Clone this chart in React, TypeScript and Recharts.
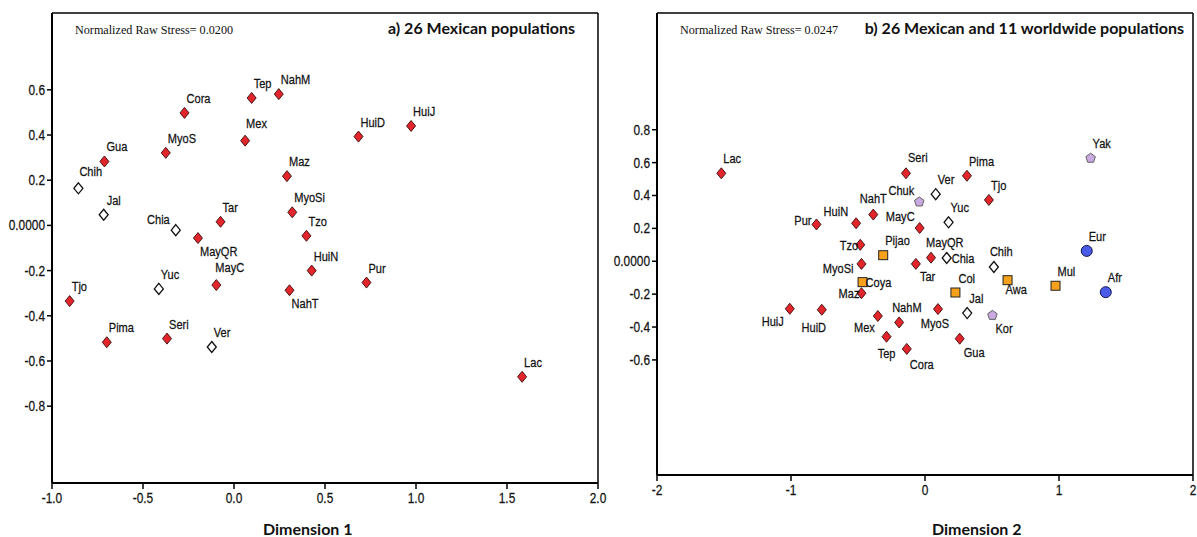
import React from "react";
import { ScatterChart, Scatter, XAxis, YAxis, ReferenceLine } from "recharts";

interface Pop {
	name: string;
	x: number;
	y: number;
}

// ---- panel a) 26 Mexican populations ----
const mexicanA: Pop[] = [
	{ name: "Tep", x: 0.097, y: 0.564 },
	{ name: "NahM", x: 0.246, y: 0.581 },
	{ name: "Cora", x: -0.272, y: 0.498 },
	{ name: "HuiJ", x: 0.973, y: 0.44 },
	{ name: "HuiD", x: 0.684, y: 0.393 },
	{ name: "Mex", x: 0.061, y: 0.375 },
	{ name: "MyoS", x: -0.375, y: 0.321 },
	{ name: "Gua", x: -0.712, y: 0.283 },
	{ name: "Maz", x: 0.291, y: 0.218 },
	{ name: "MyoSi", x: 0.32, y: 0.058 },
	{ name: "Tar", x: -0.074, y: 0.016 },
	{ name: "MayQR", x: -0.198, y: -0.056 },
	{ name: "Tzo", x: 0.398, y: -0.046 },
	{ name: "HuiN", x: 0.427, y: -0.2 },
	{ name: "Pur", x: 0.728, y: -0.253 },
	{ name: "MayC", x: -0.097, y: -0.264 },
	{ name: "NahT", x: 0.305, y: -0.287 },
	{ name: "Tjo", x: -0.903, y: -0.335 },
	{ name: "Pima", x: -0.699, y: -0.517 },
	{ name: "Seri", x: -0.368, y: -0.501 },
	{ name: "Lac", x: 1.583, y: -0.67 },
];

const mestizoA: Pop[] = [
	{ name: "Chih", x: -0.855, y: 0.164 },
	{ name: "Jal", x: -0.716, y: 0.047 },
	{ name: "Chia", x: -0.32, y: -0.021 },
	{ name: "Yuc", x: -0.413, y: -0.281 },
	{ name: "Ver", x: -0.122, y: -0.538 },
];

// ---- panel b) 26 Mexican and 11 worldwide populations ----
const mexicanB: Pop[] = [
	{ name: "Lac", x: -1.52, y: 0.535 },
	{ name: "Seri", x: -0.142, y: 0.535 },
	{ name: "Pima", x: 0.313, y: 0.52 },
	{ name: "Tjo", x: 0.477, y: 0.373 },
	{ name: "NahT", x: -0.386, y: 0.284 },
	{ name: "HuiN", x: -0.514, y: 0.231 },
	{ name: "Pur", x: -0.81, y: 0.224 },
	{ name: "MayC", x: -0.04, y: 0.202 },
	{ name: "Tzo", x: -0.483, y: 0.1 },
	{ name: "MayQR", x: 0.045, y: 0.022 },
	{ name: "Tar", x: -0.068, y: -0.016 },
	{ name: "MyoSi", x: -0.474, y: -0.016 },
	{ name: "Maz", x: -0.474, y: -0.194 },
	{ name: "HuiJ", x: -1.009, y: -0.289 },
	{ name: "HuiD", x: -0.77, y: -0.295 },
	{ name: "MyoS", x: 0.097, y: -0.291 },
	{ name: "Mex", x: -0.352, y: -0.333 },
	{ name: "NahM", x: -0.193, y: -0.372 },
	{ name: "Tep", x: -0.287, y: -0.459 },
	{ name: "Cora", x: -0.136, y: -0.533 },
	{ name: "Gua", x: 0.259, y: -0.471 },
];

const mestizoB: Pop[] = [
	{ name: "Ver", x: 0.08, y: 0.408 },
	{ name: "Yuc", x: 0.176, y: 0.237 },
	{ name: "Chia", x: 0.162, y: 0.02 },
	{ name: "Chih", x: 0.514, y: -0.035 },
	{ name: "Jal", x: 0.315, y: -0.315 },
];

const southAmericanB: Pop[] = [
	{ name: "Pijao", x: -0.312, y: 0.037 },
	{ name: "Coya", x: -0.466, y: -0.127 },
	{ name: "Col", x: 0.227, y: -0.19 },
	{ name: "Awa", x: 0.616, y: -0.115 },
	{ name: "Mul", x: 0.974, y: -0.149 },
];

const asianB: Pop[] = [
	{ name: "Yak", x: 1.236, y: 0.627 },
	{ name: "Chuk", x: -0.043, y: 0.361 },
	{ name: "Kor", x: 0.503, y: -0.329 },
];

const otherB: Pop[] = [
	{ name: "Eur", x: 1.207, y: 0.063 },
	{ name: "Afr", x: 1.349, y: -0.188 },
];

const ticksAX = [-1, -0.5, 0, 0.5, 1, 1.5, 2];
const ticksAY = [-0.8, -0.6, -0.4, -0.2, 0, 0.2, 0.4, 0.6];
const ticksBX = [-2, -1, 0, 1, 2];
const ticksBY = [-0.6, -0.4, -0.2, 0, 0.2, 0.4, 0.6, 0.8];

// label placement: [dx, dy, anchor]
type Place = [number, number, "start" | "middle" | "end"];
const DEFAULT_PLACE: Place = [2, -10, "start"];
const placeA: Record<string, Place> = {
	Chia: [-6, -6, "end"],
	MayQR: [2, 18, "start"],
	NahT: [2, 18, "start"],
	MayC: [-1, -13, "start"],
	Chih: [1, -12, "start"],
	Mex: [1, -13, "start"],
	Jal: [3, -10, "start"],
};
const placeB: Record<string, Place> = {
	Pur: [-5, 1, "end"],
	HuiN: [-8, -7, "end"],
	NahT: [0, -12, "middle"],
	Chuk: [-5, -7, "end"],
	MayC: [-5, -7, "end"],
	Tzo: [-2, 5, "end"],
	MyoSi: [-8, 9, "end"],
	MayQR: [-5, -11, "start"],
	Chia: [5, 5, "start"],
	Tar: [4, 17, "start"],
	Chih: [-4, -11, "start"],
	Coya: [3, 5, "start"],
	Maz: [-2, 5, "end"],
	Col: [3, -10, "start"],
	Awa: [-2, 14, "start"],
	Kor: [3, 18, "start"],
	HuiJ: [-6, 17, "end"],
	HuiD: [-8, 22, "middle"],
	Mex: [-3, 16, "end"],
	NahM: [-7, -10, "start"],
	MyoS: [-3, 19, "middle"],
	Tep: [0, 21, "middle"],
	Cora: [3, 20, "start"],
	Gua: [4, 18, "start"],
	Seri: [2, -11, "start"],
};

// Arial Narrow look-alike: Liberation Sans squeezed horizontally
const narrowFont = "'Liberation Sans', Arial, sans-serif";
const SQUEEZE = 0.82;

const NarrowText: React.FC<{ x: number; y: number; anchor: "start" | "middle" | "end"; size: number; children: React.ReactNode }> = ({
	x,
	y,
	anchor,
	size,
	children,
}) => (
	<text
		transform={`translate(${x},${y}) scale(${SQUEEZE},1)`}
		textAnchor={anchor}
		fontFamily={narrowFont}
		fontSize={size}
		fill="#111"
		stroke="#111"
		strokeWidth={0.25}
	>
		{children}
	</text>
);

type Kind = "diamond" | "hollow" | "square" | "pentagon" | "circle";

const makeShape = (kind: Kind, places: Record<string, Place>) => (props: any) => {
	const { cx, cy, payload } = props;
	if (cx == null || cy == null) return <g />;
	const [dx, dy, anchor] = places[payload.name] || DEFAULT_PLACE;
	let mark: React.ReactNode = null;
	if (kind === "diamond" || kind === "hollow") {
		const r = 5.5;
		mark = (
			<polygon
				points={`${cx},${cy - r} ${cx + r - 1},${cy} ${cx},${cy + r} ${cx - r + 1},${cy}`}
				fill={kind === "diamond" ? "#e2252b" : "#ffffff"}
				stroke={kind === "diamond" ? "#3a0a0a" : "#111"}
				strokeWidth={kind === "diamond" ? 0.9 : 1.3}
			/>
		);
	} else if (kind === "square") {
		mark = <rect x={cx - 4.5} y={cy - 4.5} width={9} height={9} fill="#f5a11c" stroke="#222" strokeWidth={1} />;
	} else if (kind === "pentagon") {
		const r = 5;
		const pts = [0, 1, 2, 3, 4]
			.map((i) => {
				const a = -Math.PI / 2 + (i * 2 * Math.PI) / 5;
				return `${cx + r * Math.cos(a)},${cy + r * Math.sin(a)}`;
			})
			.join(" ");
		mark = <polygon points={pts} fill="#c8a9e0" stroke="#555" strokeWidth={0.9} />;
	} else {
		mark = <circle cx={cx} cy={cy} r={5.5} fill="#4a5be8" stroke="#101850" strokeWidth={1} />;
	}
	return (
		<g>
			{mark}
			<NarrowText x={cx + dx} y={cy + dy} anchor={anchor} size={13.5}>
				{payload.name}
			</NarrowText>
		</g>
	);
};

const fmtY = (v: number) => (v === 0 ? "0.0000" : v.toFixed(1));

const makeXTick = (fmt: (v: number) => string) => (props: any) => {
	const { x, y, payload } = props;
	return (
		<NarrowText x={x} y={y + 12} anchor="middle" size={14.5}>
			{fmt(payload.value)}
		</NarrowText>
	);
};

const YTick = (props: any) => {
	const { x, y, payload } = props;
	return (
		<NarrowText x={x} y={y + 5} anchor="end" size={14.5}>
			{fmtY(payload.value)}
		</NarrowText>
	);
};

const annot = (left: number, top: number, text: string, style: React.CSSProperties) => (
	<div style={{ position: "absolute", left, top, whiteSpace: "nowrap", lineHeight: 1, ...style }}>{text}</div>
);

const App: React.FC = () => {
	const yDomA: [number, number] = [-1.14, 0.94];
	const yDomB: [number, number] = [-1.3, 1.51];
	return (
		<div style={{ position: "absolute", left: 0, top: 0, width: 1197, height: 537, background: "#fff", overflow: "hidden" }}>
			<div style={{ position: "absolute", left: 0, top: 0 }}>
				<ScatterChart width={614} height={537} margin={{ top: 13, right: 16, bottom: 24, left: 2 }}>
					<XAxis
						type="number"
						dataKey="x"
						domain={[-1, 2]}
						ticks={ticksAX}
						allowDataOverflow
						height={30}
						axisLine={{ stroke: "#000", strokeWidth: 2 }}
						tickLine={{ stroke: "#000", strokeWidth: 1.5 }}
						tickSize={6}
						tick={makeXTick((v) => v.toFixed(1))}
					/>
					<YAxis
						type="number"
						dataKey="y"
						domain={yDomA}
						ticks={ticksAY}
						allowDataOverflow
						width={50}
						axisLine={{ stroke: "#000", strokeWidth: 2 }}
						tickLine={{ stroke: "#000", strokeWidth: 1.5 }}
						tickSize={5}
						tick={YTick}
					/>
					<ReferenceLine y={yDomA[1]} stroke="#000" strokeWidth={1.5} />
					<ReferenceLine x={2} stroke="#000" strokeWidth={1.5} />
					<Scatter data={mexicanA} shape={makeShape("diamond", placeA)} isAnimationActive={false} />
					<Scatter data={mestizoA} shape={makeShape("hollow", placeA)} isAnimationActive={false} />
				</ScatterChart>
			</div>
			<div style={{ position: "absolute", left: 600, top: 0 }}>
				<ScatterChart width={597} height={537} margin={{ top: 13, right: 4, bottom: 32, left: 2 }}>
					<XAxis
						type="number"
						dataKey="x"
						domain={[-2, 2]}
						ticks={ticksBX}
						allowDataOverflow
						height={30}
						axisLine={{ stroke: "#000", strokeWidth: 2 }}
						tickLine={{ stroke: "#000", strokeWidth: 1.5 }}
						tickSize={6}
						tick={makeXTick((v) => String(v))}
					/>
					<YAxis
						type="number"
						dataKey="y"
						domain={yDomB}
						ticks={ticksBY}
						allowDataOverflow
						width={55}
						axisLine={{ stroke: "#000", strokeWidth: 2 }}
						tickLine={{ stroke: "#000", strokeWidth: 1.5 }}
						tickSize={5}
						tick={YTick}
					/>
					<ReferenceLine y={yDomB[1]} stroke="#000" strokeWidth={1.5} />
					<ReferenceLine x={2} stroke="#000" strokeWidth={1.5} />
					<Scatter data={mexicanB} shape={makeShape("diamond", placeB)} isAnimationActive={false} />
					<Scatter data={mestizoB} shape={makeShape("hollow", placeB)} isAnimationActive={false} />
					<Scatter data={southAmericanB} shape={makeShape("square", placeB)} isAnimationActive={false} />
					<Scatter data={asianB} shape={makeShape("pentagon", placeB)} isAnimationActive={false} />
					<Scatter data={otherB} shape={makeShape("circle", placeB)} isAnimationActive={false} />
				</ScatterChart>
			</div>
			{annot(75, 23, "Normalized Raw Stress= 0.0200", { fontFamily: "'Liberation Serif', serif", fontSize: 13.5, color: "#111", transform: "scaleX(0.9)", transformOrigin: "left" })}
			{annot(680, 23, "Normalized Raw Stress= 0.0247", { fontFamily: "'Liberation Serif', serif", fontSize: 13.5, color: "#111", transform: "scaleX(0.9)", transformOrigin: "left" })}
			{annot(388, 20, "a) 26 Mexican populations", { fontFamily: "Lato, sans-serif", fontWeight: 700, fontSize: 16, color: "#111", width: 173, textAlign: "right" })}
			{annot(862, 20, "b) 26 Mexican and 11 worldwide populations", { fontFamily: "Lato, sans-serif", fontWeight: 700, fontSize: 16, color: "#111", width: 322, textAlign: "right" })}
			{annot(263, 521, "Dimension 1", { fontFamily: "Lato, sans-serif", fontWeight: 700, fontSize: 16, color: "#111" })}
			{annot(932, 521, "Dimension 2", { fontFamily: "Lato, sans-serif", fontWeight: 700, fontSize: 16, color: "#111" })}
		</div>
	);
};

export default App;
